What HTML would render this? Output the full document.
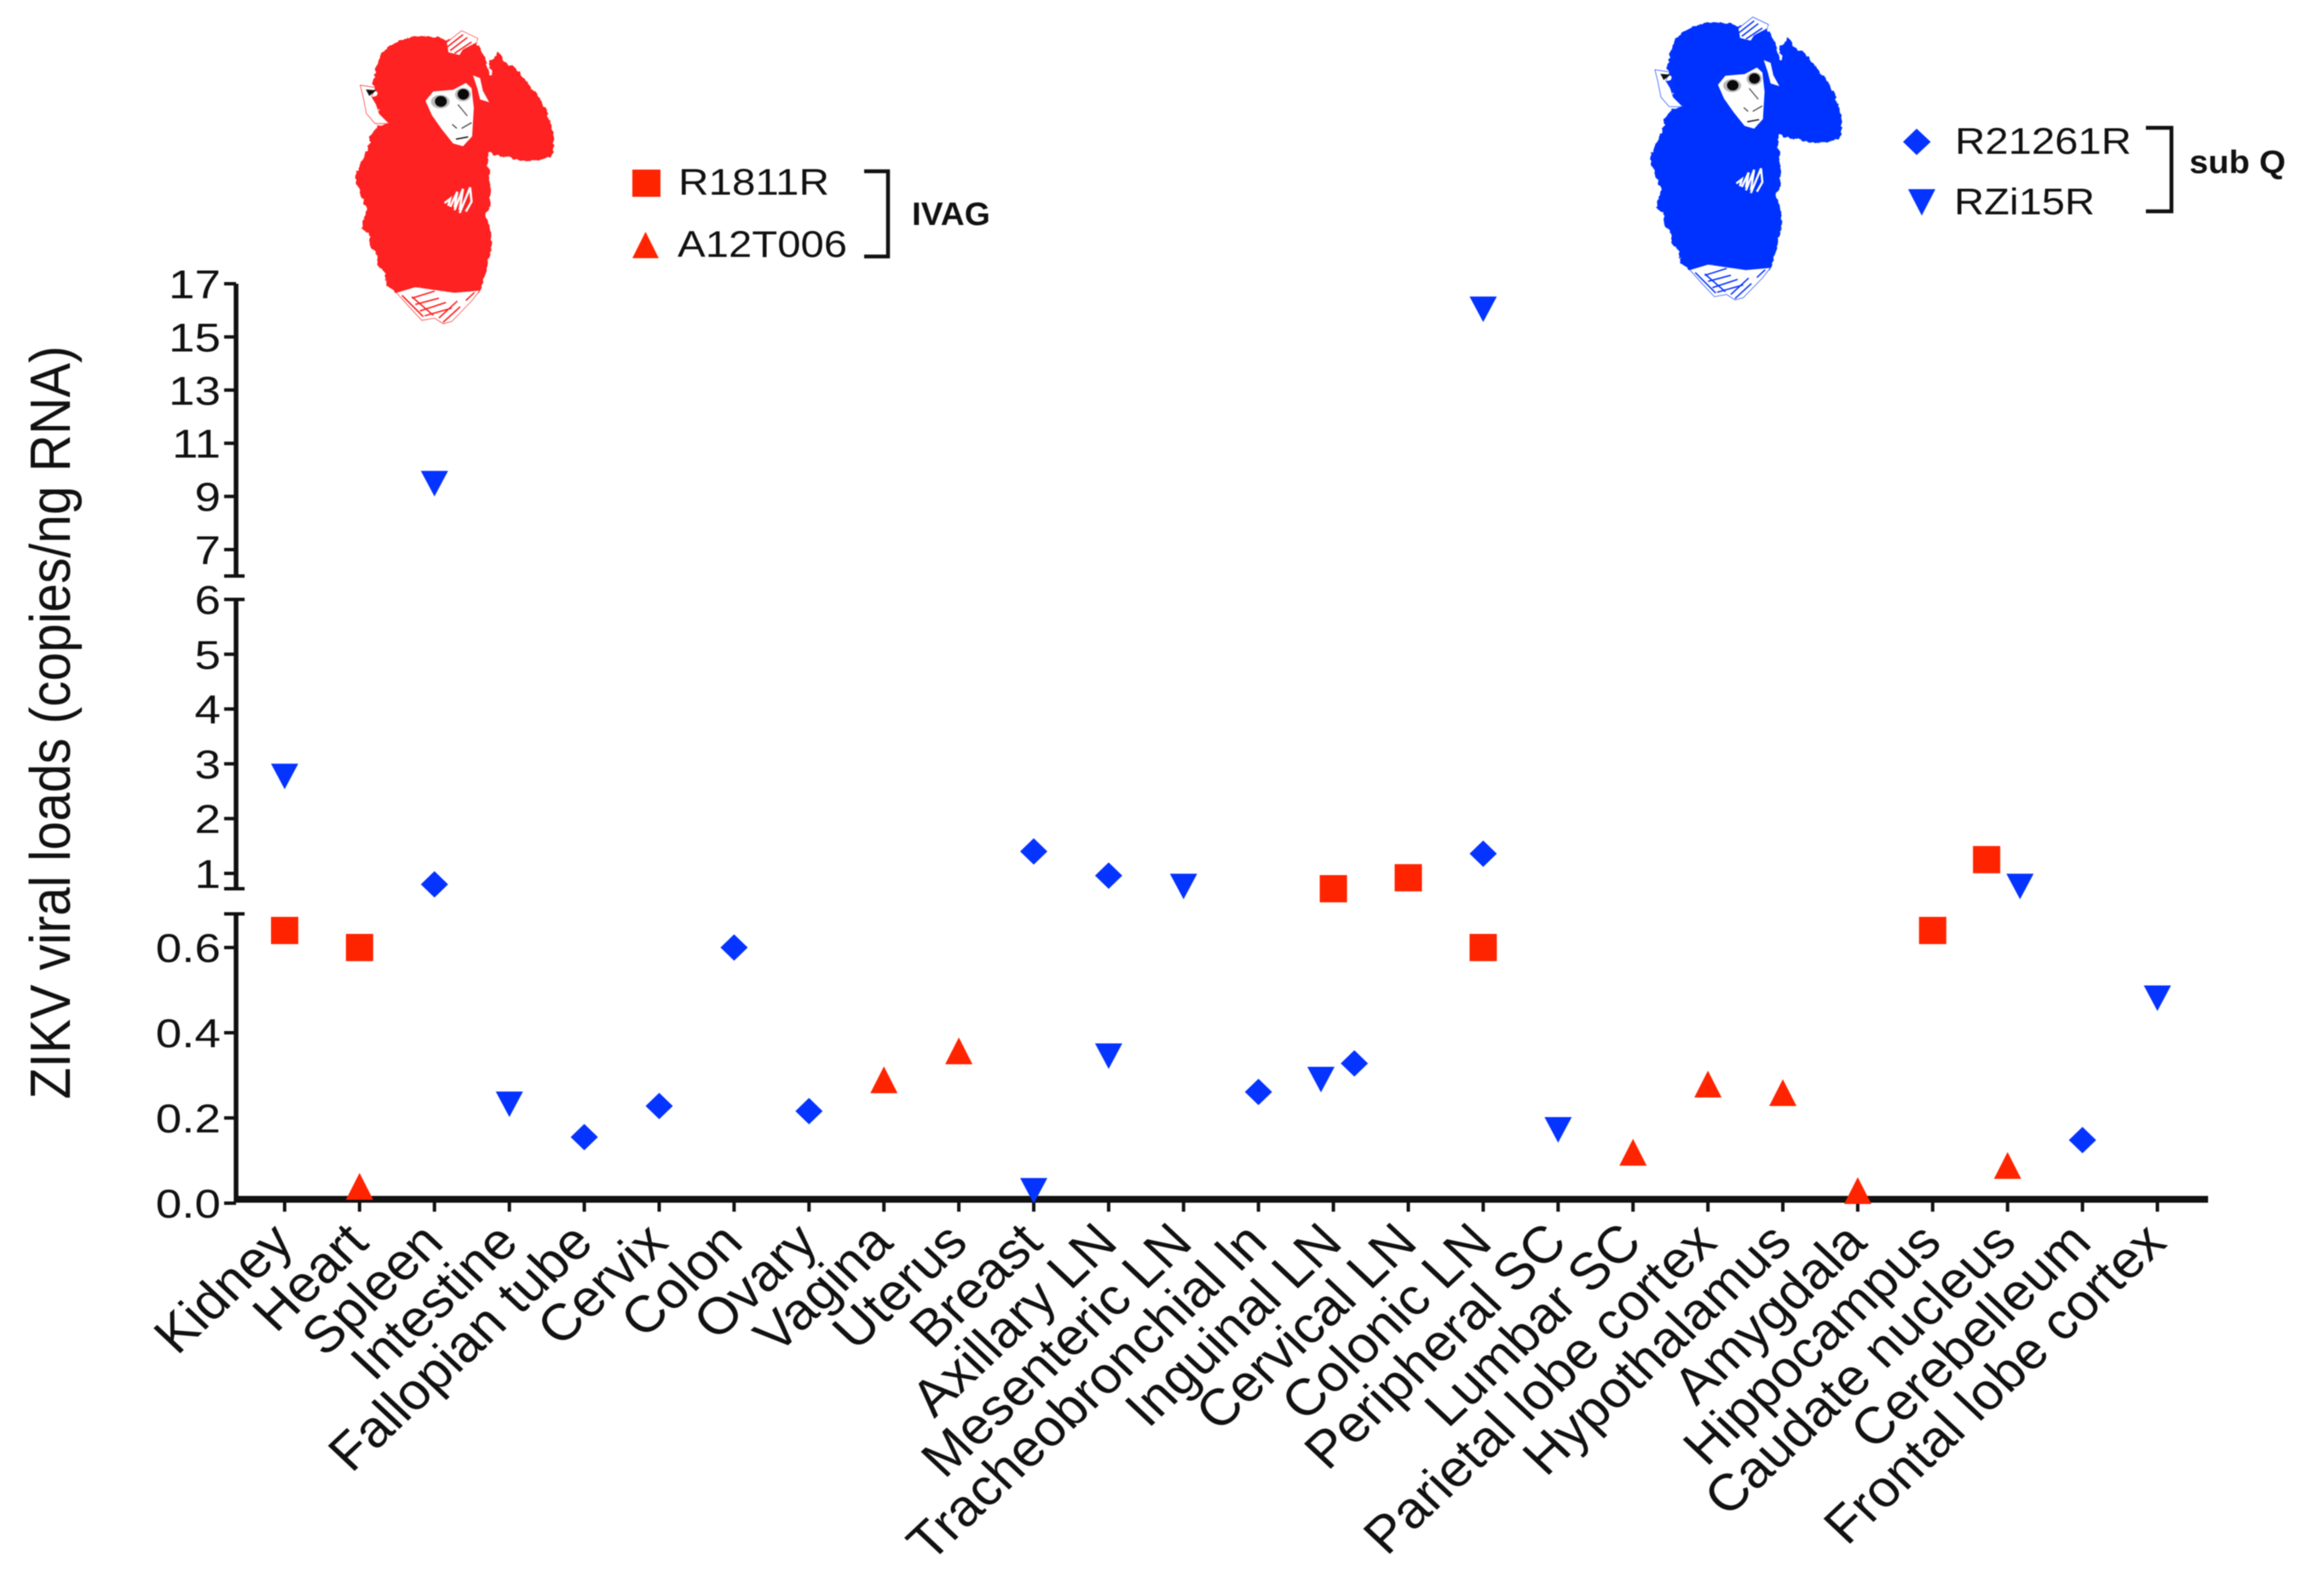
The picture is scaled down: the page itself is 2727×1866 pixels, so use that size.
<!DOCTYPE html>
<html lang="en">
<head>
<meta charset="utf-8">
<title>ZIKV viral loads by tissue</title>
<style>
html,body{margin:0;padding:0;background:#fff;width:2727px;height:1866px;overflow:hidden}
svg{display:block;filter:blur(0.6px)}
text{font-family:"Liberation Sans",Arial,sans-serif;fill:#111}
</style>
</head>
<body>
<svg id="chart" xmlns="http://www.w3.org/2000/svg" width="2727" height="1866" viewBox="0 0 2727 1866">
  <defs>
    <filter id="fur" x="-10%" y="-10%" width="120%" height="120%">
      <feTurbulence type="fractalNoise" baseFrequency="0.06" numOctaves="2" seed="4" result="n"/>
      <feDisplacementMap in="SourceGraphic" in2="n" scale="16" xChannelSelector="R" yChannelSelector="G"/>
    </filter>
    <g id="monkey-shape">
      <path filter="url(#fur)" fill="currentColor" stroke="currentColor" stroke-width="4" stroke-linejoin="round" d="M150 120L170 105L185 95L210 85L230 78L260 72L290 68L320 72L350 75L372 85L420 68L470 85L500 130L524 205L535 205L522 155L540 150L555 125L570 155L600 175L620 185L640 215L655 235L680 262L700 290L722 335L740 385L750 440L740 490L700 500L650 508L600 495L560 490L535 480L520 470L515 520L522 570L525 620L520 680L505 690L518 725L525 760L530 800L522 835L515 870L505 905L500 930L490 965L450 985L400 970L330 960L260 950L200 970L165 945L155 890L130 875L125 830L105 800L100 760L72 745L85 710L95 675L82 650L70 620L52 565L62 535L75 510L90 475L100 450L105 420L130 385L170 375L140 345L120 300L130 270L115 235L125 180Z"/>
      <!-- top hand -->
      <path fill="#fff" stroke="currentColor" stroke-width="2" d="M372 90L425 48L482 75L478 90L430 115L418 135L378 125Z"/>
      <g fill="none" stroke="currentColor" stroke-width="5">
        <path d="M375 105L430 62"/><path d="M385 118L445 72"/><path d="M400 128L460 88"/>
      </g>
      <path fill="none" stroke="#fff" stroke-width="7" stroke-dasharray="14 4" d="M482 82L508 130L529 205"/>
      <!-- forehead sliver -->
      <path fill="#fff" d="M465 205L490 215L500 260L522 300L490 290L480 250Z"/>
      <!-- ear -->
      <path fill="#fff" stroke="currentColor" stroke-width="2" d="M68 240L122 248L108 280L122 300L135 340L170 375L120 375L90 340L78 280Z"/>
      <path fill="#111" d="M88 255L125 258L100 278Z"/>
      <path fill="currentColor" d="M108 282L138 275L135 300L142 335L125 310Z"/>
      <!-- face -->
      <path fill="#fff" d="M298 295L325 262L395 256L440 232L460 250L468 320L462 420L430 455L395 445L355 395L320 345Z"/>
      <ellipse cx="350" cy="298" rx="33" ry="24" fill="#bbb"/>
      <ellipse cx="430" cy="273" rx="28" ry="24" fill="#bbb"/>
      <ellipse cx="352" cy="297" rx="21" ry="19" fill="#0a0a0a"/>
      <ellipse cx="431" cy="272" rx="20" ry="19" fill="#0a0a0a"/>
      <path fill="none" stroke="#555" stroke-width="4" d="M412 308L445 348"/>
      <path fill="none" stroke="#444" stroke-width="4" d="M392 378L408 392M425 392L460 372"/>
      <path fill="none" stroke="#222" stroke-width="5" d="M405 430L448 422"/>
      <!-- chest hand -->
      <g fill="none" stroke="#fff" stroke-width="8">
        <path d="M365 655L385 640L378 665"/><path d="M385 668L410 615L400 670"/><path d="M400 680L430 605L418 680"/><path d="M418 690L455 600L460 650L440 685"/>
      </g>
      <!-- bottom hand -->
      <path fill="#fff" stroke="currentColor" stroke-width="2" d="M195 970L262 950L330 960L400 970L490 962L460 1000L390 1072L360 1080L330 1060L285 1068L240 1020Z"/>
      <g fill="none" stroke="currentColor" stroke-width="5">
        <path d="M215 980L290 1055"/><path d="M250 985L325 1050"/><path d="M250 990L330 965"/><path d="M262 1012L345 990"/><path d="M278 1035L370 1005"/><path d="M295 1052L390 1025"/><path d="M360 1075L420 1020"/><path d="M345 1060L410 1000"/><path d="M470 970L440 998"/>
      </g>
    </g>
  </defs>

  <use href="#monkey-shape" color="#fe2020" transform="translate(400,20) scale(0.3333)"/>
  <use href="#monkey-shape" color="#0533ff" transform="translate(1920,4.6) scale(0.3217)"/>

  <text font-size="60.5" transform="translate(82,1290) scale(1.11,1) rotate(-90)">ZIKV viral loads (copies/ng RNA)</text>

  <g id="axes"></g>
  <g id="marks"></g>

  <g>
    <rect x="742" y="199" width="33" height="32" fill="#ff2400"/>
    <text x="796" y="228.5" font-size="44" textLength="177" lengthAdjust="spacingAndGlyphs">R1811R</text>
    <path d="M757.5 272L773 303L742 303Z" fill="#ff2400"/>
    <text x="795" y="301.5" font-size="44" textLength="199" lengthAdjust="spacingAndGlyphs">A12T006</text>
    <path d="M1014 201H1042V301H1014" fill="none" stroke="#111" stroke-width="4.5"/>
    <text x="1070" y="264" font-size="38" font-weight="700" textLength="92" lengthAdjust="spacingAndGlyphs">IVAG</text>
  </g>
  <g>
    <path d="M2249 151L2265.5 166.5L2249 182L2233 166.5Z" fill="#0533ff"/>
    <text x="2294" y="180.5" font-size="44" textLength="207" lengthAdjust="spacingAndGlyphs">R21261R</text>
    <path d="M2239 222H2271L2255 253Z" fill="#0533ff"/>
    <text x="2293" y="251.5" font-size="44" textLength="165" lengthAdjust="spacingAndGlyphs">RZi15R</text>
    <path d="M2518 150H2548V248H2518" fill="none" stroke="#111" stroke-width="4.5"/>
    <text x="2569" y="203" font-size="38" font-weight="700" textLength="113" lengthAdjust="spacingAndGlyphs">sub Q</text>
  </g>
</svg>
<script>
const categories = ["Kidney","Heart","Spleen","Intestine","Fallopian tube","Cervix","Colon","Ovary","Vagina","Uterus","Breast","Axillary LN","Mesenteric LN","Tracheobronchial ln","Inguinal LN","Cervical LN","Colonic LN","Peripheral SC","Lumbar SC","Parietal lobe cortex","Hypothalamus","Amygdala","Hippocampus","Caudate nucleus","Cerebelleum","Frontal lobe cortex"];

const r1811rValues  = [0.64,0.60,null,null,null,null,null,null,null,null,null,null,null,null,0.72,0.92,0.60,null,null,null,null,null,0.64,1.25,null,null];
const a12t006Values = [null,0.039,null,null,null,null,null,null,0.289,0.357,null,null,null,null,null,null,null,null,0.119,0.279,0.259,0.029,null,0.088,null,null];
const r21261rValues = [null,null,0.80,null,0.155,0.228,0.60,0.216,null,null,1.40,0.96,null,0.261,0.328,null,1.36,null,null,null,null,null,null,null,0.148,null];
const rzi15rValues  = [2.77,null,9.48,0.232,null,null,null,null,null,null,0.029,0.345,0.76,null,0.29,null,16.04,0.172,null,null,null,null,null,0.76,null,0.481];

const upperTickValues = [17,15,13,11,9,7];
const middleTickValues = [6,5,4,3,2,1];
const lowerTickValues = [0.6,0.4,0.2,0.0];

/* side-by-side scatter nudges where points share a category, in category units */
const r1811rNudge = {23:-0.28};
const r21261rNudge = {14:0.28};
const rzi15rNudge = {14:-0.166,23:0.166};
const noNudge = {};

const NS = "http://www.w3.org/2000/svg";
const axes = document.getElementById("axes");
const marks = document.getElementById("marks");

function xPos(i){ return 334 + 87.9 * i; }
function yUpper(v){ return 645 - (v - 7) * 31.2; }
function yMiddle(v){ return 1025 - (v - 1) * 64.3; }
function yLower(v){ return 1412 - v * 500; }
function yPos(v){
  if (v > 6) return yUpper(v);
  if (v >= 0.7) return yMiddle(v);
  return yLower(v);
}

function make(tag, attrs, parent){
  const el = document.createElementNS(NS, tag);
  for (const k in attrs) el.setAttribute(k, attrs[k]);
  parent.appendChild(el);
  return el;
}
function axisLine(x1, y1, x2, y2, w, name){
  const el = make("line", {x1:x1, y1:y1, x2:x2, y2:y2, stroke:"#111", "stroke-width":w}, axes);
  
  
  return el;
}

const AX = 277;
axisLine(AX, 333, AX, 676, 5.5, 'y-axis-upper-segment');
axisLine(AX, 703.5, AX, 1043, 5.5, 'y-axis-middle-segment');
axisLine(AX, 1072.5, AX, 1410, 5.5, 'y-axis-lower-segment');
axisLine(263, 676, 287, 676, 4, 'y-axis-break-cap');
axisLine(263, 703.5, 287, 703.5, 4, 'y-axis-break-cap');
axisLine(263, 1043, 287, 1043, 4, 'y-axis-break-cap');
axisLine(263, 1072.5, 287, 1072.5, 4, 'y-axis-break-cap');
axisLine(AX - 2, 1407.5, 2591, 1407.5, 8, 'x-axis-line');

function yTick(v, y, digits){
  axisLine(263, y, AX, y, 4, 'y-axis-tick');
  const t = make("text", {"font-size":47, "text-anchor":"end", transform:"translate(259," + (y + 17) + ") scale(1.17,1)"}, axes);
  
  
  t.textContent = v.toFixed(digits);
}
upperTickValues.forEach(function(v){ yTick(v, yUpper(v), 0); });
middleTickValues.forEach(function(v){ yTick(v, yMiddle(v), 0); });
lowerTickValues.forEach(function(v){ yTick(v, yLower(v), 1); });

categories.forEach(function(label, i){
  const x = xPos(i);
  axisLine(x, 1407, x, 1422, 4, 'x-axis-tick');
  const t = make("text", {"font-size":60.5, "text-anchor":"end", transform:"translate(" + (x + 13) + ",1461) scale(1.065,1) rotate(-45)"}, axes);
  
  
  t.textContent = label;
});

function squarePath(x, y){ return "M" + (x-16) + " " + (y-16) + "h32v32h-32Z"; }
function trianglePath(x, y){ return "M" + x + " " + (y-16) + "L" + (x+16) + " " + (y+15.5) + "H" + (x-16) + "Z"; }
function diamondPath(x, y){ return "M" + x + " " + (y-15.5) + "L" + (x+16) + " " + y + "L" + x + " " + (y+15.5) + "L" + (x-16) + " " + y + "Z"; }
function invertedPath(x, y){ return "M" + (x-16) + " " + (y-15) + "H" + (x+16) + "L" + x + " " + (y+15) + "Z"; }

function drawSeries(name, values, nudge, shape, color){
  values.forEach(function(v, i){
    if (v === null) return;
    const d = shape(xPos(i + (nudge[i] || 0)), yPos(v));
    const el = make("path", {d:d, fill:color}, marks);
    
    
  });
}
drawSeries('r1811r', r1811rValues, r1811rNudge, squarePath, "#ff2400");
drawSeries('a12t006', a12t006Values, noNudge, trianglePath, "#ff2400");
drawSeries('r21261r', r21261rValues, r21261rNudge, diamondPath, "#0533ff");
drawSeries('rzi15r', rzi15rValues, rzi15rNudge, invertedPath, "#0533ff");
</script>
</body>
</html>
